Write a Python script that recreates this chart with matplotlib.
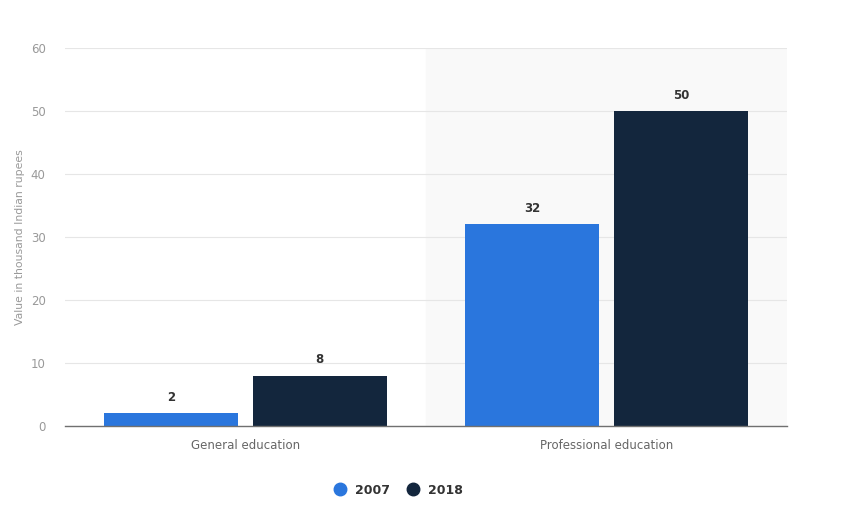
import matplotlib.pyplot as plt
from matplotlib.lines import Line2D
import numpy as np

categories = ["General education", "Professional education"]
years = ["2007", "2018"]
values_2007 = [2, 32]
values_2018 = [8, 50]
colors = ["#2a76dd", "#13263d"]

fig = plt.figure(figsize=(8.41, 5.15), dpi=100)
ax = fig.add_axes([0.0773, 0.1728, 0.8585, 0.734])

x = np.arange(len(categories))
w = 0.37
off = 0.206

# hover-style shading behind the second category
ax.axvspan(0.5, 1.5, color="#f9f9f9", zorder=0)

for vals, o, c in [(values_2007, -off, colors[0]), (values_2018, off, colors[1])]:
    bars = ax.bar(x + o, vals, width=w, color=c, zorder=3)
    for b, v in zip(bars, vals):
        ax.text(b.get_x() + b.get_width() / 2, v + 1.5, str(v), ha="center", va="bottom",
                fontsize=8.5, fontweight="bold", color="#333333")

ax.set_xlim(-0.5, 1.5)
ax.set_ylim(0, 60)
ax.set_yticks(range(0, 61, 10))
ax.yaxis.grid(True, color="#e6e6e6", linewidth=0.8, zorder=1)
ax.set_axisbelow(True)
for s in ["top", "right", "left"]:
    ax.spines[s].set_visible(False)
ax.spines["bottom"].set_color("#707070")
ax.spines["bottom"].set_linewidth(1.0)
ax.spines["bottom"].set_zorder(4)

ax.set_xticks(x)
ax.set_xticklabels(categories, fontsize=8.5, color="#666666")
ax.tick_params(axis="x", length=0, pad=9)
ax.tick_params(axis="y", length=0, pad=14, labelsize=8.5, labelcolor="#999999")
ax.set_ylabel("Value in thousand Indian rupees", fontsize=7.8, color="#999999", labelpad=4)

handles = [Line2D([], [], marker="o", linestyle="", markersize=9, color=c) for c in colors]
fig.legend(handles, years, loc="center", bbox_to_anchor=(0.47, 0.048), ncol=2, frameon=False,
           handletextpad=0.2, columnspacing=0.9, labelcolor="#333333",
           prop={"weight": "bold", "size": 9})

fig.savefig("out.png", dpi=100)
